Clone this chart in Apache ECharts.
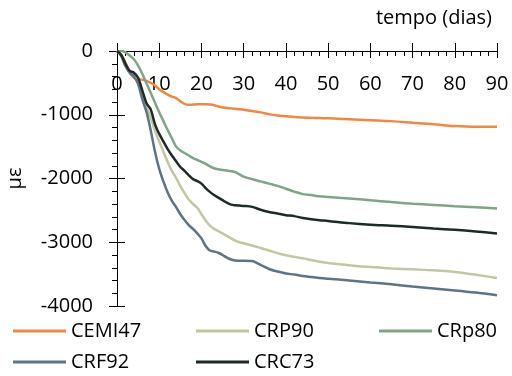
<!DOCTYPE html>
<html>
<head>
<meta charset="utf-8">
<script src="https://cdn.jsdelivr.net/npm/echarts@6/dist/echarts.min.js"></script>
<style>
  html, body { margin: 0; padding: 0; background: #fff; }
  #chart { width: 512px; height: 376px; }
</style>
</head>
<body>
<div id="chart"></div>
<script>
// dias de medição
const days = [0, 1, 2, 3, 4, 5, 6, 7, 8, 9, 10, 11, 12, 13, 14, 15, 16, 17, 18, 19, 20, 21, 22, 23, 24, 25, 26, 27, 28, 29, 30,
  32, 34, 36, 38, 40, 42, 44, 46, 48, 50, 55, 60, 65, 70, 75, 80, 85, 90];

const cemi47 = [0, -60, -180, -340, -420, -440, -450, -470, -500, -540, -600, -645, -685, -715, -740, -790, -830, -845, -840, -835, -835,
  -835, -840, -850, -870, -885, -895, -900, -905, -912, -920,
  -940, -963, -990, -1010, -1025, -1035, -1042, -1048, -1052, -1055, -1070, -1085, -1100, -1125, -1150, -1178, -1190, -1190];

const crp90 = [0, -70, -220, -330, -380, -480, -680, -880, -1050, -1250, -1420, -1580, -1740, -1880, -1990, -2120, -2230, -2330, -2400, -2460, -2560,
  -2660, -2740, -2790, -2825, -2860, -2900, -2940, -2975, -3000, -3015,
  -3050, -3090, -3130, -3170, -3205, -3229, -3252, -3280, -3305, -3325, -3360, -3390, -3410, -3425, -3440, -3465, -3510, -3560];

const crp80 = [0, 0, -20, -70, -130, -230, -360, -510, -660, -810, -960, -1100, -1240, -1370, -1500, -1560, -1600, -1640, -1680, -1710, -1740,
  -1770, -1810, -1840, -1855, -1865, -1875, -1885, -1900, -1935, -1970,
  -2010, -2045, -2080, -2115, -2160, -2206, -2245, -2260, -2280, -2290, -2315, -2340, -2370, -2395, -2415, -2435, -2450, -2469];

const crf92 = [0, -80, -240, -340, -400, -520, -760, -960, -1250, -1580, -1850, -2050, -2220, -2350, -2450, -2560, -2650, -2730, -2790, -2860, -2940,
  -3060, -3130, -3145, -3165, -3200, -3240, -3270, -3285, -3290, -3290,
  -3295, -3355, -3420, -3460, -3490, -3507, -3530, -3545, -3560, -3572, -3600, -3630, -3660, -3695, -3725, -3755, -3790, -3833];

const crc73 = [0, -60, -200, -310, -340, -420, -620, -820, -920, -1150, -1300, -1420, -1540, -1640, -1730, -1820, -1880, -1950, -2010, -2040, -2080,
  -2150, -2210, -2260, -2300, -2340, -2380, -2410, -2420, -2425, -2430,
  -2445, -2490, -2525, -2550, -2575, -2590, -2620, -2640, -2655, -2665, -2700, -2725, -2740, -2760, -2785, -2805, -2830, -2862];

const seriesNames = ['CEMI47', 'CRP90', 'CRp80', 'CRF92', 'CRC73'];
const seriesValues = [cemi47, crp90, crp80, crf92, crc73];
const seriesColors = ['#F4873F', '#C3C7A0', '#7EA588', '#5D7484', '#1E2A24'];

const FONT = 'Open Sans';
const FS = 20;
const AXIS_COLOR = '#000';

// grade: 0 no topo, -4000 em baixo
const GRID_TOP = 51;
const GRID_BOTTOM = 70;
const GRID_H = 376 - GRID_TOP - GRID_BOTTOM;
const GRID_W = 512 - 117 - 15;

function pairs(vals) {
  return days.map((d, i) => [d, vals[i]]);
}

// posição da legenda: 3 colunas, 2 linhas
const legendCols = [13, 196, 379];
const legendRows = [321, 352];

let chart = echarts.init(document.getElementById('chart'), null, { renderer: 'canvas' });

let legends = seriesNames.map((name, i) => ({
  data: [name],
  icon: 'rect',
  itemWidth: 53,
  itemHeight: 3,
  padding: 0,
  textStyle: { fontFamily: FONT, fontSize: FS, color: '#000' },
  left: legendCols[i % 3],
  top: legendRows[Math.floor(i / 3)]
}));

let option = {
  animation: false,
  backgroundColor: '#fff',
  textStyle: { fontFamily: FONT },
  title: {
    text: 'tempo (dias)',
    right: 20,
    top: 8,
    padding: 0,
    textStyle: { fontFamily: FONT, fontSize: 20, fontWeight: 'normal', color: '#000' }
  },
  legend: legends,
  grid: { left: 117, right: 15, top: GRID_TOP, bottom: GRID_BOTTOM, containLabel: false, outerBoundsMode: 'none' },
  xAxis: [
    {
      // eixo no topo (y = 0), marcas para cima
      type: 'value',
      position: 'top',
      min: 0, max: 90, interval: 10,
      axisLine: { show: true, onZero: false, lineStyle: { color: AXIS_COLOR, width: 1 } },
      axisTick: { show: true, length: 8, lineStyle: { color: AXIS_COLOR } },
      axisLabel: { show: false },
      splitLine: { show: false }
    },
    {
      // mesmo eixo, marcas e rótulos para baixo
      type: 'value',
      position: 'bottom',
      offset: -GRID_H,
      min: 0, max: 90, interval: 10,
      axisLine: { show: false, onZero: false },
      axisTick: { show: true, length: 7, lineStyle: { color: AXIS_COLOR } },
      minorTick: { show: true, splitNumber: 5, length: 5, lineStyle: { color: AXIS_COLOR } },
      axisLabel: { fontFamily: FONT, fontSize: FS, color: '#000', margin: 23 },
      splitLine: { show: false }
    }
  ],
  yAxis: [
    {
      type: 'value',
      position: 'left',
      min: -4000, max: 0, interval: 1000,
      name: 'με',
      nameLocation: 'middle',
      nameGap: 92,
      nameTextStyle: { fontFamily: FONT, fontSize: FS, color: '#000' },
      axisLine: { show: true, onZero: false, lineStyle: { color: AXIS_COLOR, width: 1 } },
      axisTick: { show: true, length: 8, lineStyle: { color: AXIS_COLOR } },
      minorTick: { show: true, splitNumber: 5, length: 5, lineStyle: { color: AXIS_COLOR } },
      axisLabel: { fontFamily: FONT, fontSize: FS, color: '#000', margin: 24, formatter: v => String(v) },
      splitLine: { show: false }
    },
    {
      type: 'value',
      position: 'right',
      offset: -GRID_W,
      min: -4000, max: 0, interval: 1000,
      axisLine: { show: false, onZero: false },
      axisTick: { show: true, length: 8, lineStyle: { color: AXIS_COLOR } },
      axisLabel: { show: false },
      splitLine: { show: false }
    }
  ],
  series: seriesNames.map((name, i) => ({
    name: name,
    type: 'line',
    data: pairs(seriesValues[i]),
    xAxisIndex: 0,
    yAxisIndex: 0,
    symbol: 'none',
    smooth: 0.3,
    color: seriesColors[i],
    lineStyle: { width: 2.5, color: seriesColors[i] }
  }))
};

chart.setOption(option);
</script>
</body>
</html>
